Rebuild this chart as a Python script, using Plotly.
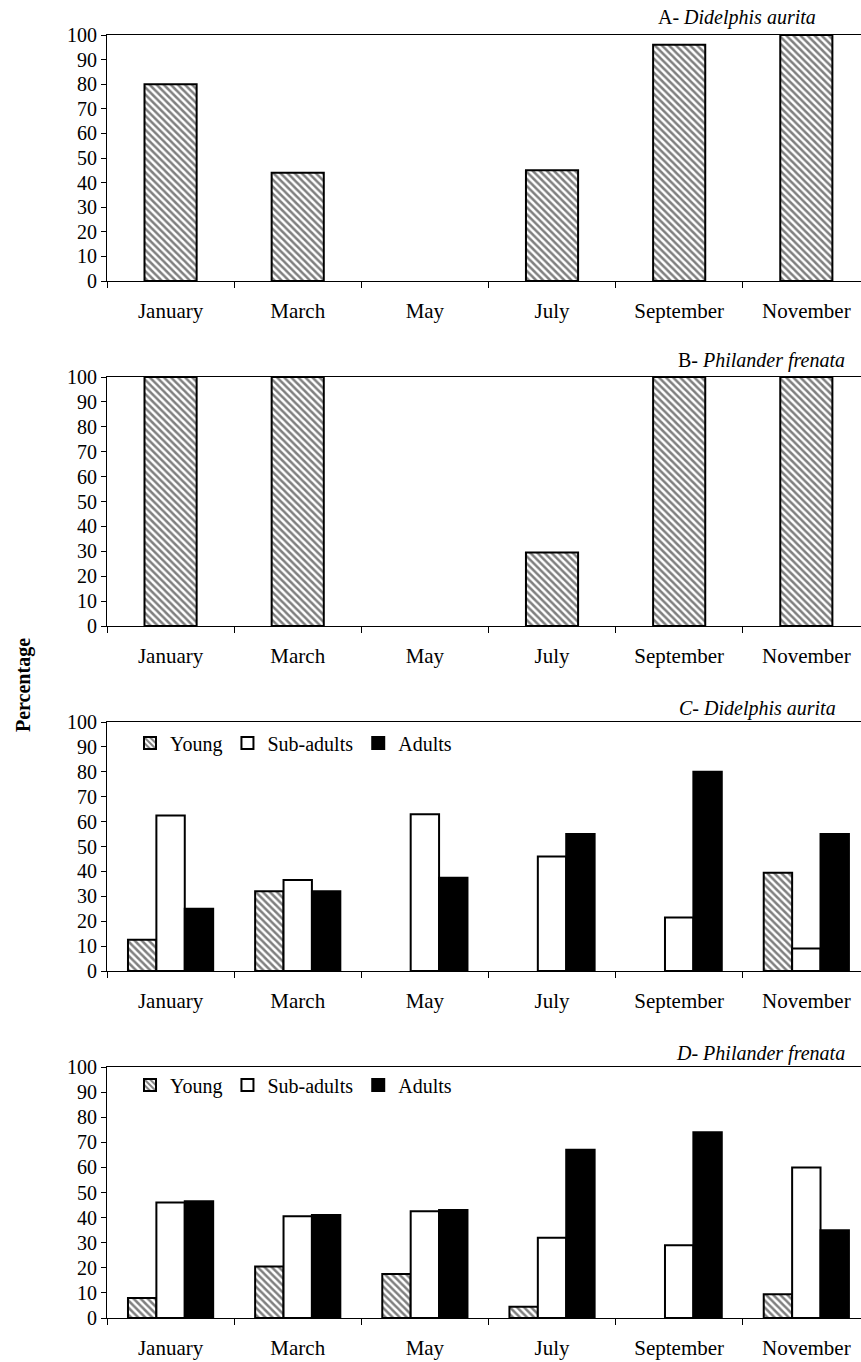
import plotly.graph_objects as go

# Sampling months (categories shared by all panels)
months = ["January", "March", "May", "July", "September", "November"]

# A / B: percentage per month (single hatched series); None = no bar
a_didelphis = [80, 44, None, 45, 96, 100]
b_philander = [100, 100, None, 29.5, 100, 100]

# C: Didelphis aurita, age classes (%)
c_young = [12.5, 32, None, None, None, 39.5]
c_sub = [62.5, 36.5, 63, 46, 21.5, 9]
c_adults = [25, 32, 37.5, 55, 80, 55]

# D: Philander frenata, age classes (%)
d_young = [8, 20.5, 17.5, 4.5, None, 9.5]
d_sub = [46, 40.5, 42.5, 32, 29, 60]
d_adults = [46.5, 41, 43, 67, 74, 35]

y_ticks = list(range(0, 101, 10))
panel_titles = ["A- <i>Didelphis aurita</i>", "B- <i>Philander frenata</i>",
                "<i>C- Didelphis aurita</i>", "<i>D- Philander frenata</i>"]

W, H = 861, 1362
SERIF = "Liberation Serif, Times New Roman, serif"

# plot areas in pixels (top, bottom) for each panel
rows_px = [(35, 281), (377, 626), (722, 971), (1067, 1318)]
title_px = [(818, 18), (847, 361), (838, 708), (847, 1053)]
x_left = 107

hatch = dict(shape="\\", fgcolor="black", bgcolor="white", size=5, solidity=0.5)
outline = dict(color="black", width=2)

fig = go.Figure()

# single-series panels
for i, vals in enumerate([a_didelphis, b_philander]):
    ax = "" if i == 0 else str(i + 1)
    fig.add_trace(go.Bar(
        x=months, y=vals, width=0.41, showlegend=False,
        marker=dict(color="white", pattern=hatch, line=outline),
        xaxis="x" + ax, yaxis="y" + ax,
    ))

# age-class panels
for i, (yg, sb, ad) in enumerate([(c_young, c_sub, c_adults),
                                  (d_young, d_sub, d_adults)]):
    ax = str(i + 3)
    leg = "legend" if i == 0 else "legend2"
    fig.add_trace(go.Bar(
        x=months, y=yg, name="Young", legend=leg,
        marker=dict(color="white", pattern=hatch, line=outline),
        xaxis="x" + ax, yaxis="y" + ax,
    ))
    fig.add_trace(go.Bar(
        x=months, y=sb, name="Sub-adults", legend=leg,
        marker=dict(color="white", line=outline),
        xaxis="x" + ax, yaxis="y" + ax,
    ))
    fig.add_trace(go.Bar(
        x=months, y=ad, name="Adults", legend=leg,
        marker=dict(color="black", line=outline),
        xaxis="x" + ax, yaxis="y" + ax,
    ))

x_range = [-0.5, 5.43]
layout = dict(
    width=W, height=H,
    margin=dict(l=0, r=0, t=0, b=0),
    paper_bgcolor="white", plot_bgcolor="white",
    barmode="group", bargap=0.33, bargroupgap=0,
    font=dict(family=SERIF, color="black"),
    showlegend=True,
)

for i, (top, bot) in enumerate(rows_px):
    n = i + 1
    ax = "" if n == 1 else str(n)
    dom_y = [1 - bot / H, 1 - top / H]
    layout["xaxis" + ax] = dict(
        type="category", categoryorder="array", categoryarray=months,
        range=x_range, domain=[x_left / W, 1], anchor="y" + ax,
        showline=True, linecolor="black", linewidth=1, mirror=True,
        ticks="outside", tickson="boundaries", ticklen=6, tickcolor="black",
        tickwidth=1, showgrid=False, zeroline=False,
        tickfont=dict(family=SERIF, size=21, color="black"),
        ticklabelstandoff=11, automargin=False, fixedrange=True,
    )
    layout["yaxis" + ax] = dict(
        range=[0, 100], domain=dom_y, anchor="x" + ax,
        tickvals=y_ticks, showline=True, linecolor="black", linewidth=1,
        ticks="outside", ticklen=5, tickcolor="black", tickwidth=1,
        showgrid=False, zeroline=False,
        tickfont=dict(family=SERIF, size=20, color="black"),
        automargin=False, fixedrange=True,
    )
    # inner halves of the crossing tick marks
    ox, oy = str(n + 4), str(n + 4)
    layout["xaxis" + ox] = dict(
        overlaying="x" + ax, anchor="y" + ax, side="bottom", type="linear",
        range=x_range, tickvals=[-0.5, 0.5, 1.5, 2.5, 3.5, 4.5],
        ticks="inside", ticklen=7, tickcolor="black", tickwidth=1,
        showticklabels=False, showline=False, showgrid=False, zeroline=False,
        fixedrange=True,
    )
    layout["yaxis" + oy] = dict(
        overlaying="y" + ax, anchor="x" + ax, side="left",
        range=[0, 100], tickvals=y_ticks,
        ticks="inside", ticklen=6, tickcolor="black", tickwidth=1,
        showticklabels=False, showline=False, showgrid=False, zeroline=False,
        fixedrange=True,
    )

legend_style = dict(
    orientation="h", xanchor="left", yanchor="middle",
    font=dict(family=SERIF, size=20, color="black"),
    bgcolor="rgba(0,0,0,0)", borderwidth=0, itemclick=False,
    itemdoubleclick=False, tracegroupgap=0,
)
layout["legend"] = dict(legend_style, x=130 / W, y=1 - 743 / H)
layout["legend2"] = dict(legend_style, x=130 / W, y=1 - 1085 / H)

annotations = []
for (xr, yc), txt in zip(title_px, panel_titles):
    annotations.append(dict(
        text=txt, xref="paper", yref="paper", x=xr / W, y=1 - yc / H,
        xanchor="right", yanchor="middle", showarrow=False,
        font=dict(family=SERIF, size=20, color="black"),
    ))
annotations.append(dict(
    text="<b>Percentage</b>", xref="paper", yref="paper",
    x=23 / W, y=1 - 685 / H, xanchor="center", yanchor="middle",
    textangle=-90, showarrow=False,
    font=dict(family=SERIF, size=20, color="black"),
))
layout["annotations"] = annotations

fig.update_layout(**layout)
fig.write_html("out.html", config={"displayModeBar": False})
